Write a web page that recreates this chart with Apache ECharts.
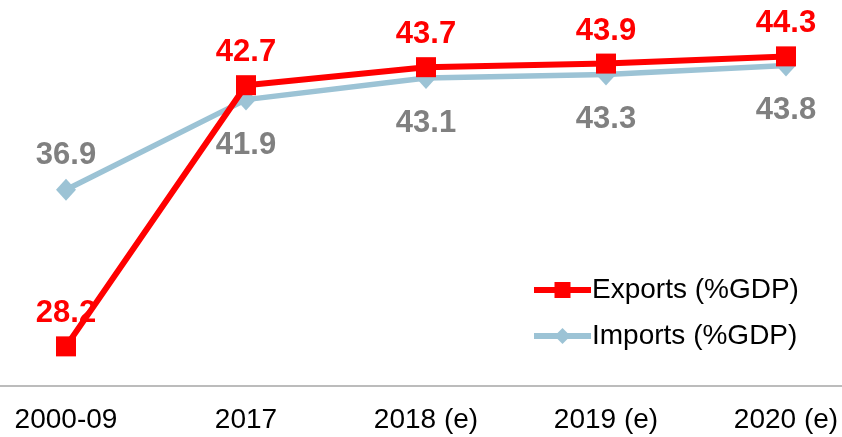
<!DOCTYPE html>
<html>
<head>
<meta charset="utf-8">
<script src="https://cdn.jsdelivr.net/npm/echarts@6/dist/echarts.min.js"></script>
<style>
  html, body { margin: 0; padding: 0; background: #fff; }
  #chart { width: 842px; height: 437px; }
</style>
</head>
<body>
<div id="chart"></div>
<script>
// categories and values
var categories = ['2000-09', '2017', '2018 (e)', '2019 (e)', '2020 (e)'];
var exportsGdp = [28.2, 42.7, 43.7, 43.9, 44.3];
var importsGdp = [36.9, 41.9, 43.1, 43.3, 43.8];

var RED = '#ff0000';
var BLUE = '#9cc3d5';
var GREY = '#808080';
var FONT = 'Liberation Sans, Arial, sans-serif';

var chart = echarts.init(document.getElementById('chart'));

// first imports point has its label above the line, the rest below
var importsData = importsGdp.map(function (v, i) {
  if (i === 0) {
    return { value: v, label: { position: 'top', distance: 8 } };
  }
  return v;
});

var option = {
  animation: false,
  backgroundColor: '#fff',
  grid: [
    { left: 66, right: 56, top: 0, bottom: 51 },
    // second grid only carries the full-width base line
    { left: 0, right: 0, top: 0, bottom: 51 }
  ],
  legend: {
    orient: 'vertical',
    left: 526,
    top: 271,
    itemWidth: 57,
    itemHeight: 20,
    itemGap: 18,
    textStyle: { fontFamily: FONT, fontSize: 28, color: '#000', padding: [0, 0, 0, -4] },
    data: [
      { name: 'Exports (%GDP)', lineStyle: { width: 6 } },
      { name: 'Imports (%GDP)', lineStyle: { width: 6 } }
    ]
  },
  xAxis: [
    {
      type: 'category',
      gridIndex: 0,
      data: categories,
      boundaryGap: false,
      axisLine: { show: false },
      axisTick: { show: false },
      axisLabel: { fontFamily: FONT, fontSize: 28, color: '#000', margin: 20 }
    },
    {
      type: 'value',
      gridIndex: 1,
      axisLine: { show: true, onZero: false, lineStyle: { color: '#a6a6a6', width: 1.5 } },
      axisTick: { show: false },
      axisLabel: { show: false },
      splitLine: { show: false }
    }
  ],
  yAxis: [
    { type: 'value', gridIndex: 0, min: 26, max: 47.43, show: false, splitLine: { show: false } },
    { type: 'value', gridIndex: 1, show: false, splitLine: { show: false } }
  ],
  series: [
    {
      name: 'Imports (%GDP)',
      type: 'line',
      data: importsData,
      symbol: 'diamond',
      symbolSize: [20, 22],
      lineStyle: { color: BLUE, width: 5.5 },
      itemStyle: { color: BLUE },
      label: {
        show: true,
        position: 'bottom',
        distance: 19,
        fontFamily: FONT,
        fontSize: 31,
        fontWeight: 'bold',
        color: GREY
      },
      z: 2
    },
    {
      name: 'Exports (%GDP)',
      type: 'line',
      data: exportsGdp,
      symbol: 'rect',
      symbolSize: 20,
      lineStyle: { color: RED, width: 6 },
      itemStyle: { color: RED },
      label: {
        show: true,
        position: 'top',
        distance: 7,
        fontFamily: FONT,
        fontSize: 31,
        fontWeight: 'bold',
        color: RED
      },
      z: 3
    }
  ]
};

chart.setOption(option);
</script>
</body>
</html>
